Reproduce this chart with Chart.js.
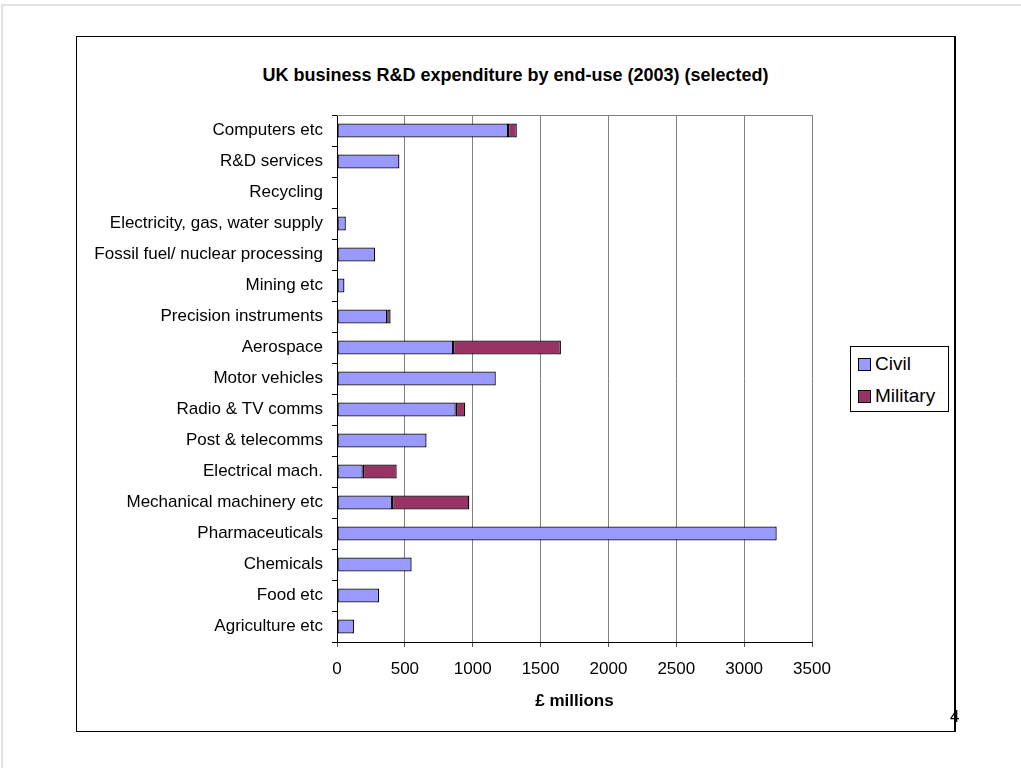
<!DOCTYPE html>
<html>
<head>
<meta charset="utf-8">
<script src="https://cdn.jsdelivr.net/npm/chart.js@4.4.1/dist/chart.umd.min.js"></script>
<style>
    html, body { margin: 0; padding: 0; background: #fff; }
    body { width: 1021px; height: 768px; position: relative; overflow: hidden; font-family: "Liberation Sans", Arial, sans-serif; }
    #page-edge { position: absolute; left: 1px; top: 4px; width: 1030px; height: 780px; border-top: 2px solid #e2e2e2; border-left: 2px solid #e2e2e2; }
    #frame { position: absolute; left: 76px; top: 36px; width: 877px; height: 694px; border: 1px solid #000; border-right-width: 2px; }
    #chart-title { position: absolute; left: 76px; top: 63px; width: 879px; line-height: 24px; text-align: center; font-size: 18px; font-weight: bold; color: #000; }
    #chart-wrap { position: absolute; left: 0; top: 0; width: 1021px; height: 768px; }
    #legend { position: absolute; left: 850px; top: 346px; width: 97px; height: 64px; border: 1px solid #000; background: #fff; }
    .legend-item { position: absolute; left: 7px; height: 22px; line-height: 22px; font-size: 19px; color: #000; white-space: nowrap; }
    .legend-swatch { display: inline-block; width: 11px; height: 11px; border: 1px solid #000; margin-right: 4px; vertical-align: -1px; }
    #page-no { position: absolute; left: 950px; top: 707px; font-size: 17px; color: #000; }
</style>
</head>
<body>
<div id="page-edge"></div>
<div id="frame"></div>
<div id="chart-title">UK business R&amp;D expenditure by end-use (2003) (selected)</div>
<div id="chart-wrap"><canvas id="rd-chart" width="1021" height="768"></canvas></div>
<div id="legend"></div>
<div id="page-no">4</div>

<script>
// End-use categories, top to bottom
const categories = [
    'Computers etc',
    'R&D services',
    'Recycling',
    'Electricity, gas, water supply',
    'Fossil fuel/ nuclear processing',
    'Mining etc',
    'Precision instruments',
    'Aerospace',
    'Motor vehicles',
    'Radio & TV comms',
    'Post & telecomms',
    'Electrical mach.',
    'Mechanical machinery etc',
    'Pharmaceuticals',
    'Chemicals',
    'Food etc',
    'Agriculture etc'
];

// £ millions
const civilSpend    = [1260, 460, 0, 65, 280, 55, 370, 855, 1170, 875, 660, 190, 405, 3240, 550, 310, 125];
const militarySpend = [65, 0, 0, 0, 0, 0, 25, 795, 0, 70, 0, 250, 570, 0, 0, 0, 0];

const xTicks = [0, 500, 1000, 1500, 2000, 2500, 3000, 3500];

const FONT = '"Liberation Sans", Arial, sans-serif';

// thin grey line along the top of the plot area
const plotTopLine = {
    id: 'plotTopLine',
    beforeDatasetsDraw(chart) {
        const { ctx, chartArea } = chart;
        ctx.save();
        ctx.strokeStyle = '#808080';
        ctx.lineWidth = 1;
        ctx.beginPath();
        ctx.moveTo(chartArea.left, chartArea.top + 0.5);
        ctx.lineTo(chartArea.right, chartArea.top + 0.5);
        ctx.stroke();
        ctx.restore();
    }
};

const ctx = document.getElementById('rd-chart').getContext('2d');

const rdChart = new Chart(ctx, {
    type: 'bar',
    data: {
        labels: categories,
        datasets: [
            {
                label: 'Civil',
                data: civilSpend,
                backgroundColor: '#9999ff',
                borderColor: '#000000',
                borderWidth: 1.3,
                borderSkipped: false
            },
            {
                label: 'Military',
                data: militarySpend,
                backgroundColor: '#993366',
                borderColor: '#000000',
                borderWidth: 1.3,
                borderSkipped: false
            }
        ]
    },
    options: {
        indexAxis: 'y',
        responsive: false,
        animation: false,
        devicePixelRatio: 1,
        datasets: {
            bar: {
                categoryPercentage: 1,
                barPercentage: 0.45
            }
        },
        layout: {
            padding: { left: 80, right: 209, top: 115, bottom: 56 }
        },
        scales: {
            x: {
                stacked: true,
                min: 0,
                max: 3500,
                afterBuildTicks: function(scale) {
                    scale.ticks = xTicks.map(v => ({ value: v }));
                },
                afterFit: function(scale) {
                    scale.height = 70;
                },
                grid: {
                    color: '#808080',
                    tickColor: '#555555',
                    tickLength: 5,
                    lineWidth: 1
                },
                border: { color: '#000000', width: 1 },
                ticks: {
                    color: '#000000',
                    padding: 12,
                    maxRotation: 0,
                    font: { family: FONT, size: 17 },
                    callback: function(value) {
                        return String(value);
                    }
                },
                title: {
                    display: true,
                    text: '£ millions',
                    color: '#000000',
                    padding: { top: 0, bottom: 0 },
                    font: { family: FONT, size: 17, weight: 'bold' }
                }
            },
            y: {
                stacked: true,
                afterFit: function(scale) {
                    scale.width = 257;
                },
                grid: {
                    drawOnChartArea: false,
                    offset: true,
                    tickColor: '#000000',
                    tickLength: 5
                },
                border: { color: '#000000', width: 1 },
                ticks: {
                    color: '#000000',
                    padding: 9,
                    autoSkip: false,
                    font: { family: FONT, size: 17 }
                }
            }
        },
        plugins: {
            legend: { display: false },
            tooltip: { enabled: false },
            title: { display: false }
        }
    },
    plugins: [plotTopLine]
});

// legend box built from the chart's datasets
const legendBox = document.getElementById('legend');
rdChart.data.datasets.forEach(function(ds, i) {
    const item = document.createElement('div');
    item.className = 'legend-item';
    item.style.top = (6 + i * 32) + 'px';
    item.innerHTML = '<span class="legend-swatch" style="background:' + ds.backgroundColor + '"></span>' + ds.label;
    legendBox.appendChild(item);
});
</script>
</body>
</html>
